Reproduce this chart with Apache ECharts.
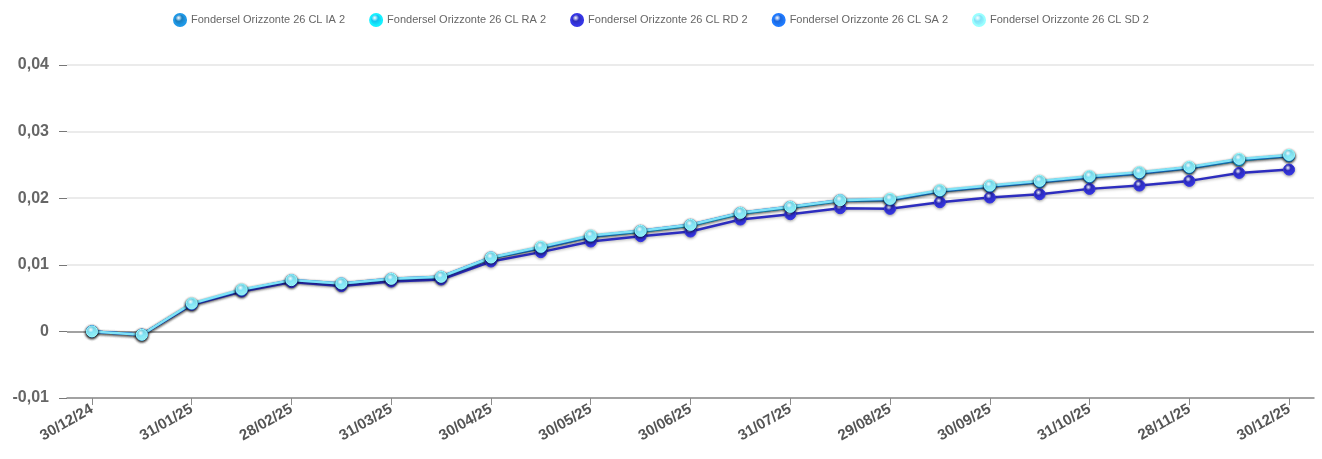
<!DOCTYPE html>
<html>
<head>
<meta charset="utf-8">
<script src="https://cdn.jsdelivr.net/npm/echarts@6/dist/echarts.min.js"></script>
<style>
html,body{margin:0;padding:0;background:#fff;}
#chart{width:1322px;height:459px;}
</style>
</head>
<body>
<div id="chart"></div>
<script>
var categories = ['30/12/24','15/01/25','31/01/25','14/02/25','28/02/25','14/03/25','31/03/25','15/04/25','30/04/25','15/05/25','30/05/25','13/06/25','30/06/25','15/07/25','31/07/25','14/08/25','29/08/25','15/09/25','30/09/25','15/10/25','31/10/25','14/11/25','28/11/25','15/12/25','30/12/25'];
var seriesNames = ['Fondersel Orizzonte 26 CL IA 2','Fondersel Orizzonte 26 CL RA 2','Fondersel Orizzonte 26 CL RD 2','Fondersel Orizzonte 26 CL SA 2','Fondersel Orizzonte 26 CL SD 2'];
var seriesColors = ['#1a7fc0','#12c8f2','#2d2dbf','#1a66e0','#7fe3f7'];
var valuesIA = [0,-0.0005,0.0041,0.0062,0.0076,0.0071,0.0078,0.0081,0.0110,0.0125,0.0142,0.0150,0.0159,0.0177,0.0186,0.0196,0.0197,0.0210,0.0217,0.0224,0.0231,0.0237,0.0245,0.0257,0.0263];
var valuesRA = [0,-0.0005,0.0041,0.0062,0.0076,0.0071,0.0078,0.0081,0.0110,0.0126,0.0143,0.0150,0.0159,0.0177,0.0186,0.0196,0.0198,0.0211,0.0218,0.0225,0.0232,0.0238,0.0246,0.0257,0.0264];
var valuesRD = [0,-0.0005,0.0040,0.0060,0.0074,0.0068,0.0075,0.0078,0.0105,0.0119,0.0135,0.0143,0.0150,0.0168,0.0176,0.0185,0.0184,0.0194,0.0201,0.0206,0.0214,0.0219,0.0226,0.0238,0.0243];
var valuesSA = [0,-0.0005,0.0041,0.0062,0.0077,0.0072,0.0079,0.0082,0.0111,0.0126,0.0143,0.0151,0.0160,0.0178,0.0187,0.0197,0.0198,0.0211,0.0218,0.0225,0.0232,0.0238,0.0246,0.0258,0.0264];
var valuesSD = [0,-0.0005,0.0042,0.0063,0.0077,0.0072,0.0079,0.0082,0.0111,0.0127,0.0144,0.0151,0.0160,0.0178,0.0187,0.0197,0.0199,0.0212,0.0219,0.0226,0.0233,0.0239,0.0247,0.0259,0.0265];
var yTickLabels = {'-0.01':'-0,01','0':'0','0.01':'0,01','0.02':'0,02','0.03':'0,03','0.04':'0,04'};

var allValues = [valuesIA, valuesRA, valuesRD, valuesSA, valuesSD];
var chart = echarts.init(document.getElementById('chart'));
var series = seriesNames.map(function(n, i){
  var s = {
    name: n,
    type: 'line',
    data: allValues[i],
    symbol: 'circle',
    symbolSize: 11,
    showSymbol: true,
    lineStyle: {width: 2.5, color: seriesColors[i], shadowColor: 'rgba(0,0,0,0.3)', shadowBlur: 3, shadowOffsetY: 1},
    itemStyle: {
      color: {type:'radial', x:0.4, y:0.35, r:0.7, colorStops:[{offset:0,color:'#ffffff'},{offset:0.35,color:seriesColors[i]},{offset:1,color:echarts.color.lift(seriesColors[i], -0.3)}]},
      borderColor: echarts.color.lift(seriesColors[i], -0.2),
      borderWidth: 1,
      shadowColor: 'rgba(0,0,0,0.35)', shadowBlur: 3, shadowOffsetY: 1
    },
    emphasis: {disabled: true},
    z: 3
  };
  if (i === 0) {
    s.markLine = {
      silent: true, symbol: 'none', label: {show: false},
      lineStyle: {color: '#8a8a8a', type: 'solid', width: 1.5},
      data: [{yAxis: 0}],
      z: 1
    };
  }
  return s;
});

chart.setOption({
  animation: false,
  backgroundColor: '#fff',
  color: seriesColors,
  legend: {
    top: 8,
    left: 'center',
    itemWidth: 12,
    itemHeight: 12,
    itemGap: 24,
    icon: 'circle',
    textStyle: {color: '#666', fontSize: 11, fontFamily: 'Liberation Sans, Arial, sans-serif'},
    data: seriesNames
  },
  grid: {left: 67, right: 8, top: 65, bottom: 61},
  xAxis: {
    type: 'category',
    data: categories,
    boundaryGap: true,
    axisLine: {show: true, onZero: false, lineStyle: {color: '#8a8a8a', width: 1.5}},
    axisTick: {show: true, alignWithLabel: true, interval: 1, length: 7, lineStyle: {color: '#8a8a8a'}},
    axisLabel: {interval: 1, rotate: 30, color: '#555', fontWeight: 'bold', fontSize: 15, fontFamily: 'Liberation Sans, Arial, sans-serif', margin: 10},
    splitLine: {show: false}
  },
  yAxis: {
    type: 'value',
    min: -0.01,
    max: 0.04,
    interval: 0.01,
    axisLine: {show: false},
    axisTick: {show: true, length: 8, lineStyle: {color: '#777'}},
    axisLabel: {
      color: '#666', fontWeight: 'bold', fontSize: 16, fontFamily: 'Liberation Sans, Arial, sans-serif', margin: 18,
      formatter: function(v){ var k = String(Math.round(v*100)/100); return yTickLabels[k] !== undefined ? yTickLabels[k] : k.replace('.', ','); }
    },
    splitLine: {show: true, lineStyle: {color: '#e4e4e4', width: 1.5}}
  },
  series: series
});
</script>
</body>
</html>
